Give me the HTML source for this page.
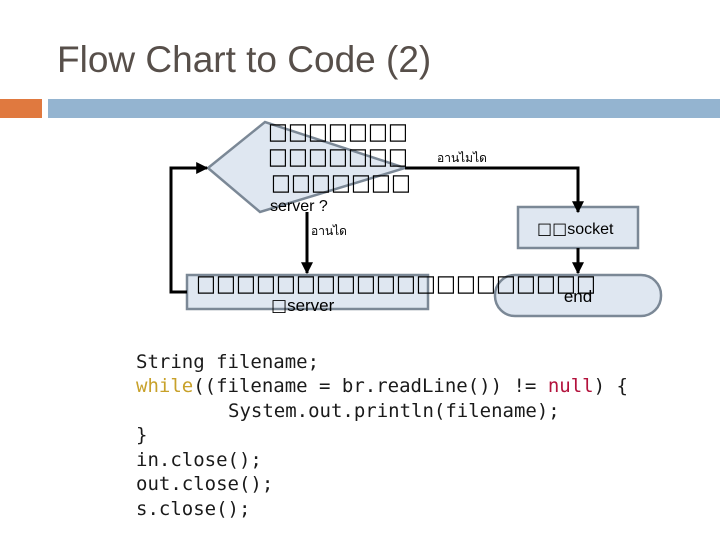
<!DOCTYPE html>
<html><head><meta charset="utf-8"><style>
html,body{margin:0;padding:0;background:#fff;}
body{width:720px;height:540px;overflow:hidden;position:relative;font-family:"Liberation Sans",sans-serif;}
</style></head><body>
<svg width="720" height="540" viewBox="0 0 720 540" xmlns="http://www.w3.org/2000/svg" style="position:absolute;left:0;top:0">
<defs><marker id="a" viewBox="0 0 10 10" refX="9" refY="5" markerWidth="4" markerHeight="4" orient="auto"><path d="M0,0L10,5L0,10z" fill="#000"/></marker></defs>
<text x="57" y="72" font-size="37" fill="#574f4a" font-family="Liberation Sans">Flow Chart to Code (2)</text>
<rect x="0" y="99" width="42" height="19" fill="#e0793f"/>
<rect x="48" y="99" width="672" height="19" fill="#94b4d0"/>
<polygon points="208,168 265,122 405,168 260,212" fill="#dfe7f1" stroke="#7b8896" stroke-width="2.5"/>
<rect x="518" y="207" width="120" height="41" fill="#dfe7f1" stroke="#7b8896" stroke-width="2.5"/>
<rect x="187" y="275" width="241" height="34" fill="#dfe7f1" stroke="#7b8896" stroke-width="2.5"/>
<rect x="495" y="275" width="166" height="41" rx="20" fill="#dfe7f1" stroke="#7b8896" stroke-width="2.5"/>
<g stroke="#000" stroke-width="3" fill="none">
<polyline points="405,168 578,168 578,212" marker-end="url(#a)"/>
<line x1="578" y1="248" x2="578" y2="273" marker-end="url(#a)"/>
<line x1="307" y1="212" x2="307" y2="273" marker-end="url(#a)"/>
<polyline points="187,292 171,292 171,168 207,168" marker-end="url(#a)"/>
</g>
<g font-family="DejaVu Sans" font-size="23" fill="#000">
<text x="268" y="139" textLength="140" lengthAdjust="spacingAndGlyphs">□□□□□□□</text>
<text x="268" y="164" textLength="140" lengthAdjust="spacingAndGlyphs">□□□□□□□</text>
<text x="271" y="190" textLength="140" lengthAdjust="spacingAndGlyphs">□□□□□□□</text>
<text x="196" y="291" textLength="400" lengthAdjust="spacingAndGlyphs">□□□□□□□□□□□□□□□□□□□□</text>
</g>
<text x="270" y="211" font-size="16">server ?</text>
<text x="437" y="162" font-size="12" font-family="Liberation Sans, DejaVu Sans, sans-serif">อานไมได</text>
<text x="311" y="235" font-size="12" font-family="Liberation Sans, DejaVu Sans, sans-serif">อานได</text>
<text x="537" y="234" font-size="16"><tspan font-family="DejaVu Sans">□□</tspan>socket</text>
<text x="271" y="311" font-size="17"><tspan font-family="DejaVu Sans">□</tspan>server</text>
<text x="578" y="302" font-size="17" text-anchor="middle">end</text>
<g font-family="DejaVu Sans Mono, Liberation Mono, monospace" font-size="19" fill="#1a1a1a">
<text x="136" y="368">String filename;</text>
<text x="136" y="392"><tspan fill="#c8a12a">while</tspan>((filename = br.readLine()) != <tspan fill="#b3123c">null</tspan>) {</text>
<text x="228" y="417">System.out.println(filename);</text>
<text x="136" y="441">}</text>
<text x="136" y="466">in.close();</text>
<text x="136" y="490">out.close();</text>
<text x="136" y="515">s.close();</text>
</g>
</svg>
</body></html>
